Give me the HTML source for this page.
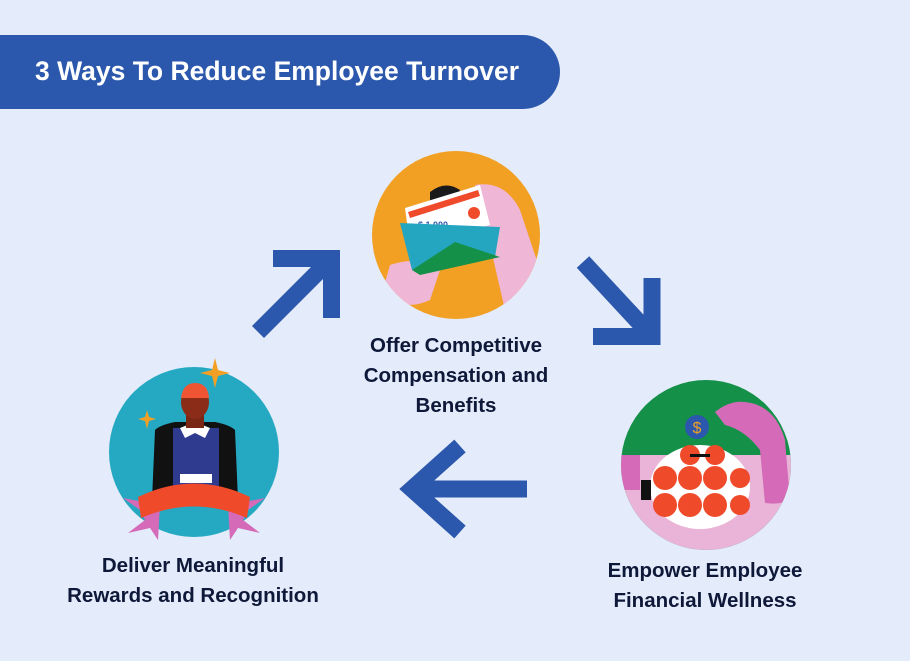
<!DOCTYPE html>
<html><head><meta charset="utf-8"><style>
body{margin:0;width:910px;height:661px;background:#e4ebfa;overflow:hidden;position:relative;font-family:"Liberation Sans",sans-serif}
.bar{position:absolute;left:0;top:35px;width:560px;height:74px;background:#2b58ac;border-radius:0 37px 37px 0}
.bar span{position:absolute;left:35px;top:21px;color:#fff;font-weight:bold;font-size:26.5px;white-space:nowrap}
.t{position:absolute;text-align:center;font-weight:bold;color:#0e1838;font-size:20.5px;line-height:30px;white-space:nowrap}
</style></head><body>
<div class="bar"><span>3 Ways To Reduce Employee Turnover</span></div>
<svg width="910" height="661" style="position:absolute;left:0;top:0">
<g fill="none" stroke="#2b58ac" stroke-width="17" stroke-linejoin="miter">
<polyline points="273,258.5 331.5,258.5 331.5,318"/>
<line x1="258" y1="332" x2="328" y2="262"/>
<polyline points="652,278 652,336.5 593,336.5"/>
<line x1="583" y1="262" x2="648" y2="332"/>
<polyline points="460,446 412,489 460,532"/>
<line x1="412" y1="489" x2="527" y2="489"/>
</g>
<clipPath id="c1"><circle cx="456" cy="235" r="84"/></clipPath>
<circle cx="456" cy="235" r="84" fill="#f2a024"/>
<g clip-path="url(#c1)">
<path d="M475,185 Q505,180 520,210 L540,270 L520,300 L505,310 L490,245 Z" fill="#f0b6d6"/>
<path d="M390,265 Q420,255 440,270 L430,300 Q410,310 380,300 Z" fill="#f0b6d6"/>
<path d="M430,192 Q445,180 460,190 L450,225 L430,225 Z" fill="#1a1a1a"/>
<polygon points="405,208 480,185 490,225 410,245" fill="#fff"/>
<polygon points="408,212 478,190 480,196 410,218" fill="#ef4b2b"/>
<circle cx="474" cy="213" r="6" fill="#ef4b2b"/>
<text x="418" y="228" font-size="9" font-weight="bold" fill="#2b58ac" font-family="Liberation Sans">$ 1,000</text>
<polygon points="400,223 500,227 495,257 412,270" fill="#24a6c0"/>
<polygon points="412,270 455,242 500,257 420,275" fill="#149048"/>
</g>
<clipPath id="c2"><circle cx="706" cy="465" r="85"/></clipPath>
<g clip-path="url(#c2)">
<rect x="600" y="370" width="210" height="200" fill="#149048"/>
<rect x="600" y="455" width="210" height="120" fill="#eab4d8"/>
<rect x="600" y="455" width="40" height="35" fill="#d46ab8"/>
<path d="M715,412 Q730,400 745,402 Q775,405 785,440 L790,500 Q780,505 765,503 L760,450 Q745,430 725,425 Z" fill="#d46ab8"/>
<circle cx="697" cy="427" r="12" fill="#2b58ac"/>
<text x="697" y="433" text-anchor="middle" font-size="16" fill="#f2a024" font-family="Liberation Sans">$</text>
<ellipse cx="700" cy="487" rx="50" ry="42" fill="#fff"/>
<g fill="#ef4b2b"><circle cx="665" cy="478" r="12"/><circle cx="690" cy="478" r="12"/><circle cx="715" cy="478" r="12"/><circle cx="740" cy="478" r="10"/><circle cx="665" cy="505" r="12"/><circle cx="690" cy="505" r="12"/><circle cx="715" cy="505" r="12"/><circle cx="740" cy="505" r="10"/><circle cx="690" cy="455" r="10"/><circle cx="715" cy="455" r="10"/></g>
<rect x="641" y="480" width="10" height="20" fill="#111"/>
<rect x="690" y="454" width="20" height="3" fill="#111"/>
</g>
<circle cx="194" cy="452" r="85" fill="#25a9c3"/>
<clipPath id="c3"><circle cx="194" cy="452" r="85"/></clipPath>
<g clip-path="url(#c3)">
<path d="M155,430 Q160,425 175,422 L215,422 Q230,425 235,430 L238,500 L152,500 Z" fill="#111"/>
<rect x="173" y="428" width="46" height="60" fill="#2e3b8f"/>
<rect x="180" y="474" width="32" height="9" fill="#fff"/>
<polygon points="180,428 195,422 210,428 205,438 195,433 185,438" fill="#fff"/>
<rect x="186" y="412" width="18" height="16" fill="#7a2614"/>
<ellipse cx="195" cy="402" rx="14" ry="17" fill="#8a2c18"/>
<path d="M181,398 Q183,383 195,383 Q208,383 209,398 Z" fill="#ef5533"/>
</g>
<path d="M123,498 L140,510 L145,520 L128,533 L150,528 L158,540 L160,505 Z" fill="#d46ab8"/>
<path d="M265,498 L248,510 L243,520 L260,533 L238,528 L230,540 L228,505 Z" fill="#d46ab8"/>
<path d="M138,497 Q194,470 250,497 L247,518 Q194,495 141,518 Z" fill="#ef4b2b"/>
<path d="M215,358 L218,370 L230,373 L218,376 L215,388 L212,376 L200,373 L212,370 Z" fill="#f2a024"/>
<path d="M147,410 L149,417 L156,419 L149,421 L147,429 L145,421 L138,419 L145,417 Z" fill="#f2a024"/>
</svg>
<div class="t" style="left:306px;width:300px;top:331px">Offer Competitive<br>Compensation and<br>Benefits</div>
<div class="t" style="left:555px;width:300px;top:556px">Empower Employee<br>Financial Wellness</div>
<div class="t" style="left:43px;width:300px;top:551px">Deliver Meaningful<br>Rewards and Recognition</div>
</body></html>
